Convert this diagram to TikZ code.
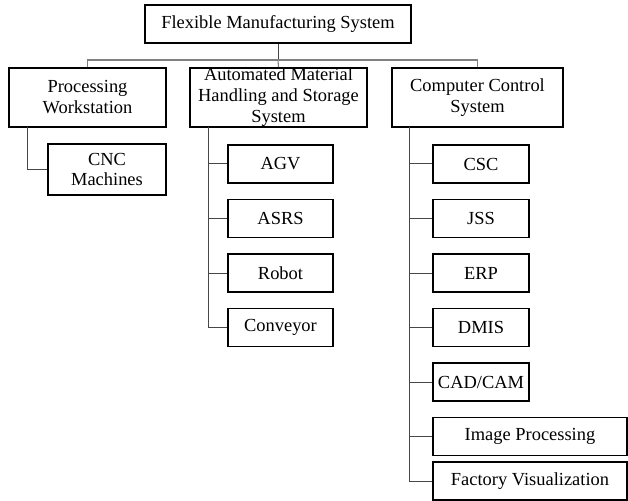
\documentclass[tikz,border=0pt]{standalone}
\usepackage{fontspec}
\setmainfont{Liberation Serif}
\begin{document}
\begin{tikzpicture}[x=1bp,y=-1bp,
  box/.style={draw=black,line width=1.7bp,fill=white,inner sep=0pt,align=center,
    font=\fontsize{18.5}{21}\selectfont},
  conn/.style={draw=black!72,line width=1bp},
  bus/.style={draw=black!50,line width=1.1bp}]
\useasboundingbox (0,0) rectangle (628,501);
% level 0 / 1
\node[box,minimum width=266bp,minimum height=38bp] (top) at (278,24) {Flexible Manufacturing System};
\node[box,minimum width=157bp,minimum height=59bp] (pw) at (87.5,97.5) {Processing\\Workstation};
\node[box,minimum width=177bp,minimum height=59bp] (amhs) at (278.5,97.5) {Automated Material\\Handling and Storage\\System};
\node[box,minimum width=171bp,minimum height=59bp] (ccs) at (477.5,97.5) {Computer Control\\System};
% processing
\node[box,minimum width=118bp,minimum height=51bp] (cnc) at (107,169.5) {CNC\\Machines};
% AMHS children
\node[box,minimum width=105bp,minimum height=38bp] (agv) at (280.5,164) {AGV};
\node[box,minimum width=105bp,minimum height=38bp] (asrs) at (280.5,218.5) {ASRS};
\node[box,minimum width=105bp,minimum height=38bp] (robot) at (280.5,273) {Robot};
\node[box,minimum width=105bp,minimum height=38bp] (conv) at (280.5,327.5) {Conveyor};
% CCS children
\node[box,minimum width=96bp,minimum height=38bp] (csc) at (481,164) {CSC};
\node[box,minimum width=96bp,minimum height=38bp] (jss) at (481,218.5) {JSS};
\node[box,minimum width=96bp,minimum height=38bp] (erp) at (481,273) {ERP};
\node[box,minimum width=96bp,minimum height=38bp] (dmis) at (481,327.5) {DMIS};
\node[box,minimum width=96bp,minimum height=38bp] (cad) at (481,382) {CAD/CAM};
\node[box,minimum width=194bp,minimum height=38bp] (img) at (530,436.5) {Image Processing};
\node[box,minimum width=194bp,minimum height=38bp] (fv) at (530,481) {Factory Visualization};
% bus
\coordinate (busc) at (278,60);
\draw[conn] (top.south) -- (busc);
\draw[bus] (pw.north) -- (pw.north |- busc) -- (ccs.north |- busc) -- (ccs.north);
\draw[bus] (amhs.north) -- (busc);
% branches
\coordinate (pwx) at (27,127);
\coordinate (amx) at (208,127);
\coordinate (ccx) at (409,127);
\draw[conn] (pwx) |- (cnc.west);
\draw[conn] (amx) |- (conv.west);
\foreach \n in {agv,asrs,robot} \draw[conn] (amx |- \n.west) -- (\n.west);
\draw[conn] (ccx) |- (fv.west);
\foreach \n in {csc,jss,erp,dmis,cad,img} \draw[conn] (ccx |- \n.west) -- (\n.west);
\end{tikzpicture}
\end{document}
